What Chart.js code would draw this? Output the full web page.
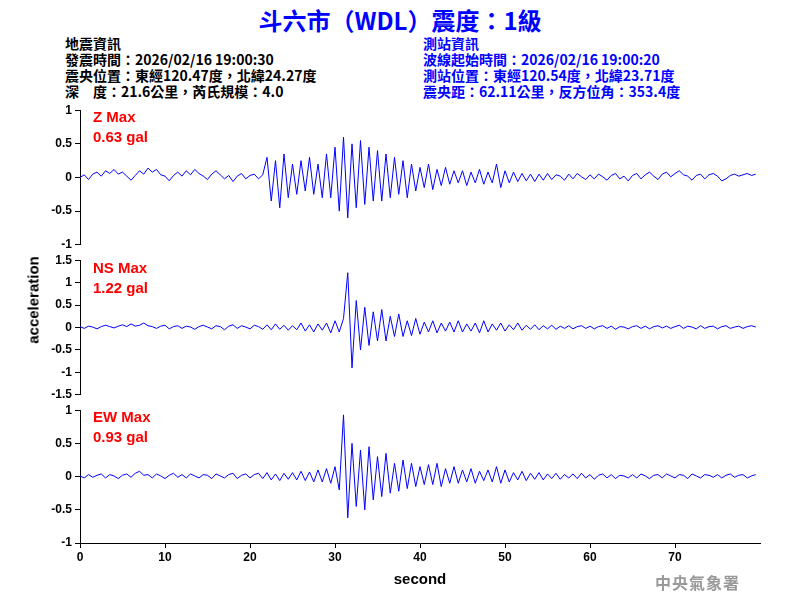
<!DOCTYPE html>
<html><head><meta charset="utf-8">
<script src="https://cdn.jsdelivr.net/npm/chart.js@4"></script>
<style>
body{margin:0;background:#fff;font-family:"Liberation Sans",Arial,sans-serif;}
#wrap{position:relative;width:800px;height:600px;overflow:hidden;}
canvas{position:absolute;left:0;}
.t{position:absolute;white-space:pre;font-family:"Noto Sans CJK TC","Liberation Sans",sans-serif;}
.hd{font-size:14px;line-height:16px;font-weight:bold;}
.mx{position:absolute;color:#f00;font-weight:bold;font-size:15px;line-height:20px;}
</style></head><body>
<div id="wrap">
<div class="t" style="left:0;width:800px;top:2px;text-align:center;color:#00f;font-size:24px;font-weight:bold;">斗六市（WDL）震度：1級</div>
<div class="t hd" style="left:65px;top:35px;color:#000;">地震資訊
發震時間：2026/02/16 19:00:30
震央位置：東經120.47度，北緯24.27度
深　度：21.6公里，芮氏規模：4.0</div>
<div class="t hd" style="left:423px;top:35px;color:#00f;">測站資訊
波線起始時間：2026/02/16 19:00:20
測站位置：東經120.54度，北緯23.71度
震央距：62.11公里，反方位角：353.4度</div>
<canvas id="c1" width="800" height="155" style="top:100px"></canvas>
<canvas id="c2" width="800" height="155" style="top:250px"></canvas>
<canvas id="c3" width="800" height="195" style="top:400px"></canvas>
<div class="mx" style="left:93px;top:107px;">Z Max<br>0.63 gal</div>
<div class="mx" style="left:93px;top:258px;">NS Max<br>1.22 gal</div>
<div class="mx" style="left:93px;top:407px;">EW Max<br>0.93 gal</div>
<div class="t" style="left:18px;top:300px;transform:translate(0,-50%) rotate(-90deg);transform-origin:center;font-size:15px;font-weight:bold;font-family:'Liberation Sans',Arial;width:30px;text-align:center;"><span style="display:inline-block;width:120px;margin-left:-45px;">acceleration</span></div>
<div class="t" style="left:655px;top:570px;color:#999;font-size:16px;font-weight:bold;font-family:'Noto Sans CJK TC';letter-spacing:1px;">中央氣象署</div>
</div>
<script>
const step = 0.5;
const zData = [0,.04,-.03,.05,.08,.02,.1,.06,.12,.05,
.08,.02,-.04,.03,.1,.05,.14,.08,.12,.04,
.02,-.05,.03,.08,.02,.1,.04,.12,.06,.02,
-.03,.05,.1,.04,-.02,.03,-.06,.02,.06,-.02,
.03,.05,-.02,.04,
.3,-.35,.25,-.45,.35,-.3,.2,-.25,
.25,-.2,.3,-.25,.2,-.3,.35,-.3,
.45,-.5,.6,-.6,.5,-.45,.55,-.4,.45,-.35,
.4,-.35,.35,-.3,.3,-.25,.25,-.3,.2,-.2,
.15,-.15,.2,-.18,.12,-.12,.15,-.1,.1,-.08,
.1,-.12,.08,-.08,.12,-.1,.08,-.08,.2,-.15,
.1,-.08,.08,-.06,.06,-.05,.05,-.06,.05,-.04,
.06,-.03,.04,.02,-.04,.05,-.02,.06,.01,-.03,
.04,-.02,.05,.01,-.04,.03,.06,-.02,.02,-.05,
.03,.06,-.02,.04,.08,.02,-.03,.05,.08,.01,
.06,.1,.04,.02,-.04,.03,.05,-.02,.04,.06,
.02,-.05,-.02,.03,.05,.02,.04,.06,.03,.05];
const nsData = [.02,-.02,.03,.01,-.03,.02,.05,.02,-.01,.03,
.06,.02,.08,.03,.05,.1,.04,.02,-.02,.03,
.05,-.03,.02,.04,-.02,.03,.01,-.04,.02,.05,
.01,-.03,.04,.02,-.05,.03,.06,-.02,.04,.01,
-.03,.05,.02,-.04,
.06,-.05,.08,-.04,.05,-.06,.04,-.05,
.1,-.08,.06,-.1,.08,-.06,.1,-.12,
.15,-.1,.2,1.22,-.9,.6,-.5,.45,-.4,.35,
-.3,.4,-.3,.25,-.2,.3,-.2,.15,-.18,.2,
-.15,.12,-.1,.15,-.12,.1,-.08,.12,-.1,.15,
-.1,.08,-.08,.1,-.12,.15,-.1,.08,-.06,.1,
-.08,.06,-.05,.1,-.06,.05,-.04,.06,-.05,.04,
-.03,.05,-.04,.03,-.02,.04,-.03,.02,.04,-.02,
.03,-.03,.02,.04,-.02,.03,-.04,.02,.01,-.03,
.02,.04,-.02,.03,-.03,.02,.04,-.01,.03,-.02,
.02,.05,-.02,.03,.01,-.03,.04,-.02,.02,.03,
-.03,.02,.04,-.02,.01,.03,-.02,.02,.04,.01];
const ewData = [.01,-.02,.03,-.01,.02,.04,-.02,.03,.01,-.03,
.02,.04,-.01,.05,.08,.02,.03,-.02,.04,.01,
-.03,.02,.05,-.01,.03,-.02,.04,.01,-.02,.03,
.02,-.03,.04,.01,-.02,.03,.05,-.03,.02,.04,
-.02,.03,.05,-.03,
.06,-.05,.04,-.06,.05,-.04,.06,-.05,
.08,-.06,.07,-.08,.1,-.08,.12,-.1,
.15,-.2,.93,-.62,.5,-.45,.4,-.5,.45,-.35,
.3,-.3,.35,-.25,.2,-.22,.25,-.18,.2,-.15,
.15,-.12,.18,-.12,.2,-.15,.12,-.1,.15,-.1,
.1,-.08,.12,-.1,.08,-.06,.1,-.08,.15,-.1,
.1,-.08,.06,-.05,.08,-.06,.05,-.04,.06,-.05,
.04,-.03,.05,-.04,.03,-.02,.04,-.03,.05,-.02,
.03,-.04,.02,.04,-.02,.03,-.03,.02,.01,-.02,
.03,-.02,.04,.01,-.03,.02,.03,-.02,.04,.01,
-.02,.03,.02,-.03,.04,.01,-.02,.03,.02,-.01,
.03,-.02,.02,.04,-.01,.02,.03,-.02,.01,.03];
const xTicks = [0,10,20,30,40,50,60,70];

const tickFont = {family:"Liberation Sans", size:12, weight:"bold"};
function makeChart(id, data, lim, bottom) {
  new Chart(document.getElementById(id), {
    type: "line",
    data: {datasets: [{data: data.map((v,i)=>({x:i*step, y:v})), borderColor:"#0000ff", borderWidth:1, pointRadius:0, tension:0}]},
    options: {
      responsive:false, animation:false,
      plugins:{legend:{display:false}, tooltip:{enabled:false}},
      layout:{padding:{top:8, right:40, bottom: bottom?0:2, left:0}},
      scales:{
        x:{type:"linear", min:0, max:80, display:bottom,
          afterBuildTicks: s => { s.ticks = xTicks.map(v=>({value:v})); },
          afterFit: s => { if (bottom) s.height = 52; },
          grid:{drawOnChartArea:false, color:"#000", tickLength:5},
          border:{color:"#000"},
          ticks:{color:"#000", font:tickFont, padding:2},
          title:{display:true, text:"second", color:"#000", font:{family:"Liberation Sans", size:15, weight:"bold"}, padding:{top:2,bottom:6}}},
        y:{min:-lim, max:lim,
          afterFit: s => { s.width = 80; },
          grid:{drawOnChartArea:false, color:"#000", tickLength:5},
          border:{color:"#000"},
          ticks:{stepSize:0.5, color:"#000", font:tickFont, padding:3, callback: v => String(v)}}
      }
    }
  });
}
makeChart("c1", zData, 1, false);
makeChart("c2", nsData, 1.5, false);
makeChart("c3", ewData, 1, true);
</script>
</body></html>
